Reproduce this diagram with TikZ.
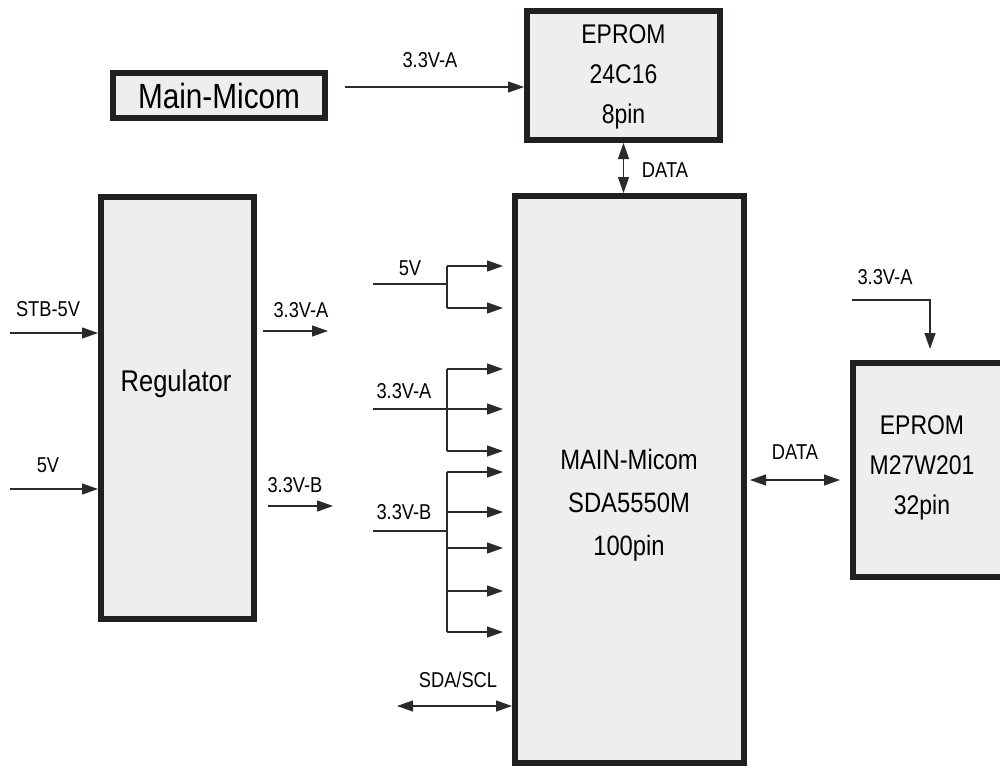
\documentclass[tikz,border=0pt]{standalone}
\usepackage{fontspec}
\setmainfont{Liberation Sans}[FakeStretch=0.85]
\usetikzlibrary{arrows.meta}
\definecolor{boxfill}{HTML}{EDEEF0}
\definecolor{boxline}{HTML}{231F20}
\definecolor{wire}{HTML}{2A2A2A}
\tikzset{
  blk/.style={draw=boxline, fill=boxfill, line width=6pt, inner sep=0pt},
  arr/.style={draw=wire, line width=1.2pt, -{Triangle[length=16pt,width=11pt]}},
  darr/.style={draw=wire, line width=1.2pt, {Triangle[length=16pt,width=11pt]}-{Triangle[length=16pt,width=11pt]}},
  wireln/.style={draw=wire, line width=1.2pt},
  lbl/.style={inner sep=0pt, font=\fontsize{21.5}{21.5}\selectfont},
  big/.style={inner sep=0pt, align=center, font=\fontsize{27}{40}\selectfont},
}
\begin{document}
\begin{tikzpicture}[x=1pt,y=-1pt]
\useasboundingbox (0,0) rectangle (1000,768);
\begin{scope}
\clip (0,0) rectangle (1000,768);
% boxes
\node[blk, minimum width=212pt, minimum height=45pt] (mm) at (219,95.5) {};
\node[inner sep=0pt, font=\fontsize{35}{35}\selectfont] (mmt) at (219,96) {Main-Micom};
\node[blk, minimum width=193pt, minimum height=129pt] (ep1) at (623.5,75.5) {};
\node[big] (ep1t) at (623.5,77) {EPROM\\24C16\\8pin};
\node[blk, minimum width=229pt, minimum height=567pt] (main) at (629.5,479.5) {};
\node[big, font=\fontsize{28}{43}\selectfont] (maint) at (629,505) {MAIN-Micom\\SDA5550M\\100pin};
\node[blk, minimum width=153pt, minimum height=422pt] (reg) at (177.5,408) {};
\node[inner sep=0pt, font=\fontsize{30}{30}\selectfont] (regt) at (176,384) {Regulator};
\node[blk, minimum width=154pt, minimum height=214pt] (ep2) at (930,470) {};
\node[big] (ep2t) at (922,468) {EPROM\\M27W201\\32pin};

% top connections
\coordinate (ta) at (345,87);
\draw[arr] (ta) -- (ta -| ep1.west);
\node[lbl] (l1) at (430,60) {3.3V-A};
\draw[darr] (ep1.south) -- (ep1.south |- main.north);
\node[lbl] (l2) at (665,170) {DATA};

% regulator inputs
\coordinate (s1) at (10,333);
\coordinate (s2) at (10,489);
\draw[arr] (s1) -- (s1 -| reg.west);
\draw[arr] (s2) -- (s2 -| reg.west);
\node[lbl] (l3) at (48,309) {STB-5V};
\node[lbl] (l4) at (48,465) {5V};

% regulator outputs
\coordinate (o1a) at (263,331);
\coordinate (o1b) at (328,331);
\coordinate (o2a) at (268,506);
\coordinate (o2b) at (333,506);
\draw[arr] (o1a) -- (o1b);
\draw[arr] (o2a) -- (o2b);
\node[lbl] (l5) at (301,310) {3.3V-A};
\node[lbl] (l6) at (295,485) {3.3V-B};

% main box input groups
\coordinate (i5) at (373,284);   \coordinate (j5) at (447,284);
\coordinate (iA) at (373,409);   \coordinate (jA) at (447,409);
\coordinate (iB) at (373,531);   \coordinate (jB) at (447,531);
\draw[wireln] (i5) -- (j5);
\draw[wireln] (iA) -- (jA);
\draw[wireln] (iB) -- (jB);
\coordinate (v5a) at (447,266); \coordinate (v5b) at (447,308);
\coordinate (vAa) at (447,369); \coordinate (vAb) at (447,451);
\coordinate (vBa) at (447,472); \coordinate (vBb) at (447,632);
\draw[wireln] (v5a) -- (v5b);
\draw[wireln] (vAa) -- (vAb);
\draw[wireln] (vBa) -- (vBb);
\foreach \y in {266,308,369,409,451,472,512,548,591,632} {
  \coordinate (bp) at (447,\y);
  \draw[arr, shorten >=9pt] (bp) -- (bp -| main.west);
}
\node[lbl] (l7) at (410,268) {5V};
\node[lbl] (l8) at (404,391) {3.3V-A};
\node[lbl] (l9) at (404,512) {3.3V-B};

% SDA/SCL
\coordinate (sda) at (397,706);
\draw[darr] (sda) -- (sda -| main.west);
\node[lbl] (l10) at (458,680) {SDA/SCL};

% right side
\coordinate (dy) at (0,480);
\draw[darr, shorten <=3pt, shorten >=10pt] (main.east |- dy) -- (ep2.west |- dy);
\node[lbl] (l11) at (795,452) {DATA};
\coordinate (r1) at (852,300);
\draw[arr, shorten >=11pt] (r1) -| (ep2.north);
\node[lbl] (l12) at (885,277) {3.3V-A};
\end{scope}
\end{tikzpicture}
\end{document}
